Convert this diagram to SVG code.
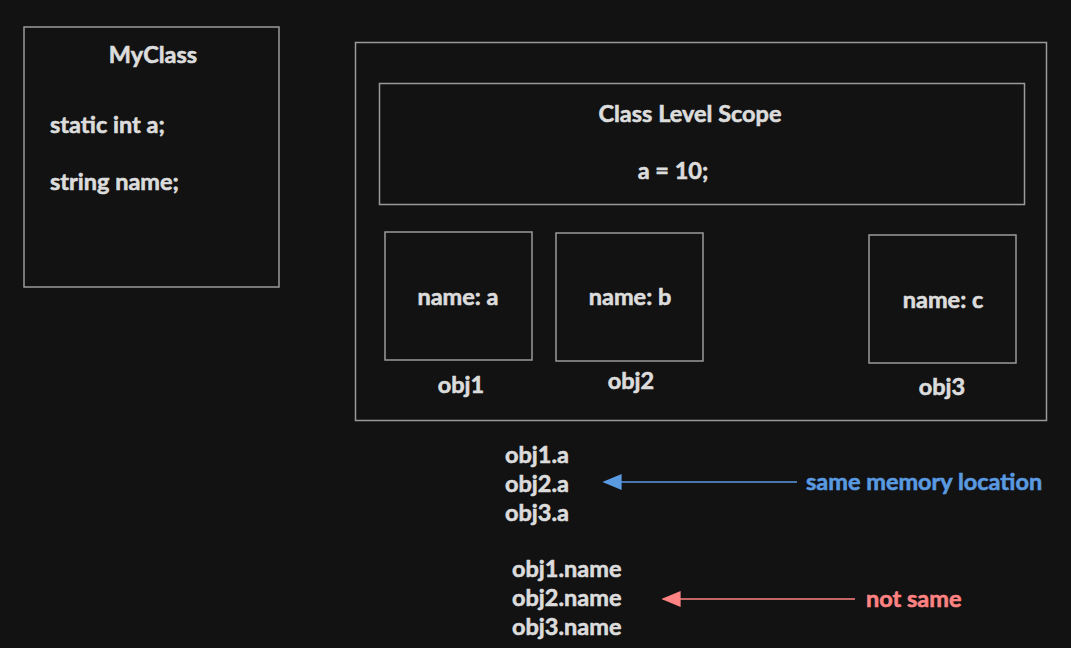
<svg xmlns="http://www.w3.org/2000/svg" width="1071" height="648" viewBox="0 0 1071 648">
<defs>
<style>
.box{fill:none;stroke:#9a9a9a;stroke-width:1.5}
text{font-family:Lato,"Liberation Sans",sans-serif;font-weight:bold;font-size:23.5px;fill:#dcdcdc;stroke:#dcdcdc;stroke-width:0.6}
.c{text-anchor:middle}
.blue{fill:#5a9ae0;stroke:#5a9ae0}
.red{fill:#ff8383;stroke:#ff8383}
</style>
<marker id="ab" viewBox="0 0 12 10" refX="11" refY="5" markerWidth="20" markerHeight="16" markerUnits="userSpaceOnUse" orient="auto"><path d="M0,0 L12,5 L0,10 Z" fill="#5a9ae0"/></marker>
<marker id="ar" viewBox="0 0 12 10" refX="11" refY="5" markerWidth="20" markerHeight="16" markerUnits="userSpaceOnUse" orient="auto"><path d="M0,0 L12,5 L0,10 Z" fill="#ff8383"/></marker>
</defs>
<rect width="1071" height="648" fill="#121212"/>
<g id="myclass">
<rect class="box" x="24" y="27" width="255" height="260"/>
<text class="c" x="153" y="63">MyClass</text>
<text x="50" y="133">static int a;</text>
<text x="50" y="190">string name;</text>
</g>
<g id="container">
<rect class="box" x="355.5" y="42.5" width="691" height="378"/>
</g>
<g id="classscope">
<rect class="box" x="379.5" y="83.5" width="645" height="121"/>
<text class="c" x="690" y="122">Class Level Scope</text>
<text class="c" x="673" y="179">a = 10;</text>
</g>
<g id="obj1">
<rect class="box" x="385" y="232" width="147" height="128"/>
<text class="c" x="458" y="305">name: a</text>
<text class="c" x="461" y="393">obj1</text>
</g>
<g id="obj2">
<rect class="box" x="556" y="233" width="147" height="128"/>
<text class="c" x="630" y="305">name: b</text>
<text class="c" x="631" y="389">obj2</text>
</g>
<g id="obj3">
<rect class="box" x="869" y="235" width="147" height="128"/>
<text class="c" x="943" y="308">name: c</text>
<text class="c" x="942" y="395">obj3</text>
</g>
<g id="staticrefs">
<text x="505" y="463">obj1.a</text>
<text x="505" y="492">obj2.a</text>
<text x="505" y="521">obj3.a</text>
</g>
<g id="namerefs">
<text x="512" y="577">obj1.name</text>
<text x="512" y="606">obj2.name</text>
<text x="512" y="635">obj3.name</text>
</g>
<g id="labels">
<text class="blue" x="806" y="490">same memory location</text>
<text class="red" x="866" y="607">not same</text>
</g>
<g id="connectors">
<line x1="797" y1="482" x2="604" y2="482" stroke="#5a9ae0" stroke-width="1.5" marker-end="url(#ab)"/>
<line x1="855" y1="599" x2="663" y2="599" stroke="#ff8383" stroke-width="1.5" marker-end="url(#ar)"/>
</g>
</svg>
